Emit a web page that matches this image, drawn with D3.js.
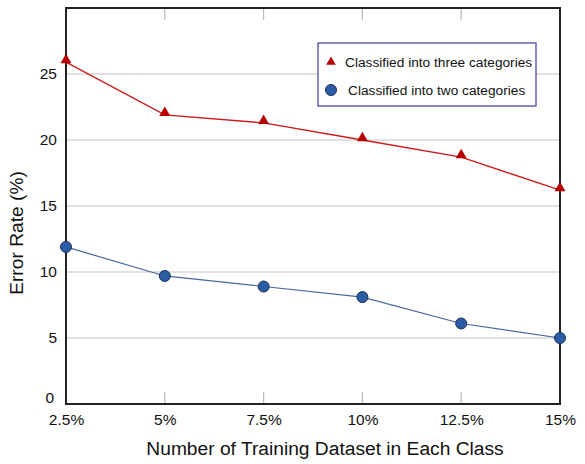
<!DOCTYPE html>
<html><head><meta charset="utf-8">
<script src="https://cdn.jsdelivr.net/npm/d3@7"></script>
<style>body{margin:0;background:#fff}svg{display:block;font-family:"Liberation Sans",Arial,sans-serif}</style>
</head><body><svg id="c" width="585" height="464"></svg>
<script>
const categories = ["2.5%","5%","7.5%","10%","12.5%","15%"];
const threeCat = [25.9,21.9,21.3,20.0,18.7,16.2];
const twoCat = [11.9,9.7,8.9,8.1,6.1,5.0];
const yTicks = [0,5,10,15,20,25];
const seriesNames = ["Classified into three categories","Classified into two categories"];

const svg = d3.select("#c");
const L=66,R=560,T=8,B=404;
const x = d3.scalePoint().domain(categories).range([L,R]);
const y = d3.scaleLinear().domain([0,30]).range([B,T]);

// gridlines
svg.append("g").selectAll("line").data(yTicks.filter(d=>d>0)).join("line")
  .attr("x1",L).attr("x2",R).attr("y1",d=>y(d)).attr("y2",d=>y(d))
  .attr("stroke","#c4c4c4").attr("stroke-width",1.2);

// inner ticks top & bottom
const inner = categories.slice(1,-1);
svg.append("g").selectAll("line").data(inner).join("line")
  .attr("x1",d=>x(d)).attr("x2",d=>x(d)).attr("y1",B).attr("y2",B-12)
  .attr("stroke","#bbb").attr("stroke-width",1.2);
svg.append("g").selectAll("line").data(inner).join("line")
  .attr("x1",d=>x(d)).attr("x2",d=>x(d)).attr("y1",T).attr("y2",T+12)
  .attr("stroke","#bbb").attr("stroke-width",1.2);

// frame
svg.append("rect").attr("x",L).attr("y",T).attr("width",R-L).attr("height",B-T)
  .attr("fill","none").attr("stroke","#222").attr("stroke-width",2);

// y axis labels
const ya = svg.append("g").attr("transform",`translate(${L},0)`)
  .call(d3.axisLeft(y).tickValues(yTicks).tickSize(0).tickPadding(9));
ya.select(".domain").remove();
ya.selectAll("text").attr("font-size",15.5).attr("fill","#111").attr("font-family","Liberation Sans, Arial, sans-serif")
  .attr("dy",d=>d===0?"-0.1em":"0.32em");
ya.selectAll(".tick").filter(d=>d===0).select("text").attr("dx",-3);

// x axis labels
const xa = svg.append("g").attr("transform",`translate(0,${B})`)
  .call(d3.axisBottom(x).tickSize(0).tickPadding(10));
xa.select(".domain").remove();
xa.selectAll("text").attr("font-size",15.5).attr("fill","#111").attr("font-family","Liberation Sans, Arial, sans-serif");

// axis titles
svg.append("text").attr("x",325).attr("y",455).attr("text-anchor","middle")
  .attr("font-size",19.2).attr("fill","#111").text("Number of Training Dataset in Each Class");
svg.append("text").attr("transform","translate(23,233) rotate(-90)").attr("text-anchor","middle")
  .attr("font-size",19.2).attr("fill","#111").text("Error Rate (%)");

const line = d3.line().x((d,i)=>x(categories[i])).y(d=>y(d));
// red series
svg.append("path").datum(threeCat).attr("d",line).attr("fill","none")
  .attr("stroke","#cc1a1a").attr("stroke-width",1.3);
const tri = d3.symbol().type(d3.symbolTriangle).size(52);
svg.append("g").selectAll("path").data(threeCat).join("path")
  .attr("d",tri).attr("transform",(d,i)=>`translate(${x(categories[i])},${y(d)-2})`)
  .attr("fill","#b80000");
// blue series
svg.append("path").datum(twoCat).attr("d",line).attr("fill","none")
  .attr("stroke","#46679e").attr("stroke-width",1.2);
svg.append("g").selectAll("circle").data(twoCat).join("circle")
  .attr("cx",(d,i)=>x(categories[i])).attr("cy",d=>y(d)).attr("r",5.5)
  .attr("fill","#2b5ca6").attr("stroke","#1b2f55").attr("stroke-width",1);

// legend
const lg = svg.append("g");
lg.append("rect").attr("x",318).attr("y",43).attr("width",218).attr("height",63)
  .attr("fill","#fff").attr("stroke","#3a3aa0").attr("stroke-width",1.2);
lg.append("path").attr("d",d3.symbol().type(d3.symbolTriangle).size(40)()).attr("transform","translate(331,62)").attr("fill","#b80000");
lg.append("text").attr("x",345).attr("y",67).attr("font-size",13.7).attr("fill","#111").text(seriesNames[0]);
lg.append("circle").attr("cx",331).attr("cy",90).attr("r",5.5).attr("fill","#2b5ca6").attr("stroke","#1b2f55");
lg.append("text").attr("x",348).attr("y",95).attr("font-size",13.7).attr("fill","#111").text(seriesNames[1]);
</script></body></html>
